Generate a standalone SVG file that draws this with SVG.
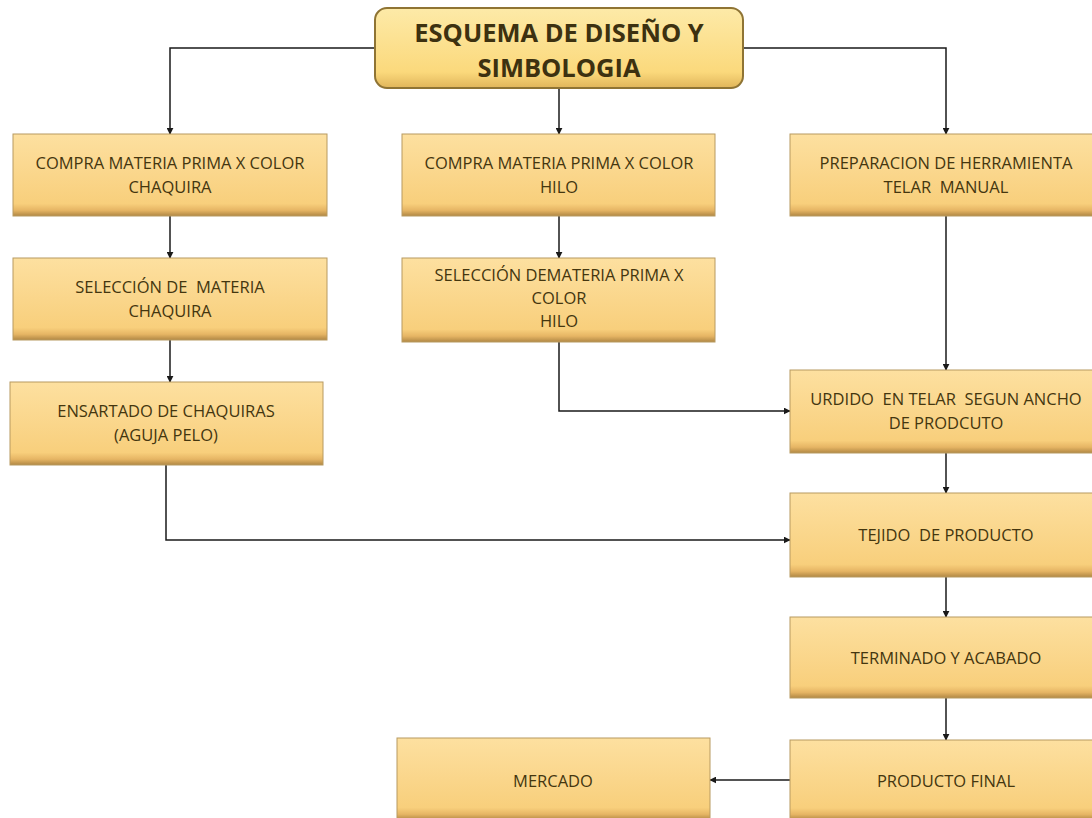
<svg xmlns="http://www.w3.org/2000/svg" width="1092" height="818" viewBox="0 0 1092 818">
<defs>
<linearGradient id="g" x1="0" y1="0" x2="0" y2="1">
<stop offset="0" stop-color="#fde0a0"/>
<stop offset="0.85" stop-color="#f8cf7c"/>
<stop offset="0.93" stop-color="#e6b564"/>
<stop offset="1" stop-color="#b08744"/>
</linearGradient>
<linearGradient id="gt" x1="0" y1="0" x2="0" y2="1">
<stop offset="0" stop-color="#fdeaa8"/>
<stop offset="0.8" stop-color="#fbd97c"/>
<stop offset="1" stop-color="#e0b55a"/>
</linearGradient>
<marker id="a" viewBox="0 0 10 10" refX="9" refY="5" markerWidth="7" markerHeight="7" orient="auto" markerUnits="userSpaceOnUse">
<path d="M0,0 L10,5 L0,10 z" fill="#1a1a1a"/>
</marker>
<style>
.b{fill:url(#g);stroke:#b89a60;stroke-width:1}
.t{font-family:"Open Sans","Noto Sans",sans-serif;font-size:16.5px;fill:#44360f;text-anchor:middle;white-space:pre}
.tt{font-family:"Open Sans","Noto Sans",sans-serif;font-size:25.5px;font-weight:bold;fill:#3d3110;text-anchor:middle}
.c{fill:none;stroke:#1a1a1a;stroke-width:1.5;marker-end:url(#a)}
</style>
</defs>
<rect width="1092" height="818" fill="#ffffff"/>
<g id="connectors">
<path class="c" d="M375,48 H170 V134"/>
<path class="c" d="M559,88 V134"/>
<path class="c" d="M743,48 H946 V134"/>
<path class="c" d="M170,216 V258"/>
<path class="c" d="M170,340 V382"/>
<path class="c" d="M166,465 V540 H790"/>
<path class="c" d="M559,216 V258"/>
<path class="c" d="M559,342 V411 H790"/>
<path class="c" d="M946,216 V370"/>
<path class="c" d="M946,453 V493"/>
<path class="c" d="M946,577 V617"/>
<path class="c" d="M946,698 V740"/>
<path class="c" d="M790,780 H710"/>
</g>
<g id="title">
<rect x="375" y="8" width="368" height="80" rx="12" fill="url(#gt)" stroke="#8f7434" stroke-width="2"/>
<text class="tt" x="559" y="42">ESQUEMA DE DISEÑO Y</text>
<text class="tt" x="559" y="77">SIMBOLOGIA</text>
</g>
<g id="n1">
<rect class="b" x="13" y="134" width="314" height="82"/>
<text class="t" x="170" y="169">COMPRA MATERIA PRIMA X COLOR</text>
<text class="t" x="170" y="193">CHAQUIRA</text>
</g>
<g id="n2">
<rect class="b" x="13" y="258" width="314" height="82"/>
<text class="t" x="170" y="293">SELECCIÓN DE  MATERIA</text>
<text class="t" x="170" y="317">CHAQUIRA</text>
</g>
<g id="n3">
<rect class="b" x="10" y="382" width="313" height="83"/>
<text class="t" x="166" y="417">ENSARTADO DE CHAQUIRAS</text>
<text class="t" x="166" y="441">(AGUJA PELO)</text>
</g>
<g id="n4">
<rect class="b" x="402" y="134" width="313" height="82"/>
<text class="t" x="559" y="169">COMPRA MATERIA PRIMA X COLOR</text>
<text class="t" x="559" y="193">HILO</text>
</g>
<g id="n5">
<rect class="b" x="402" y="258" width="313" height="84"/>
<text class="t" x="559" y="281">SELECCIÓN DEMATERIA PRIMA X</text>
<text class="t" x="559" y="304">COLOR</text>
<text class="t" x="559" y="327">HILO</text>
</g>
<g id="n6">
<rect class="b" x="790" y="134" width="312" height="82"/>
<text class="t" x="946" y="169">PREPARACION DE HERRAMIENTA</text>
<text class="t" x="946" y="193">TELAR  MANUAL</text>
</g>
<g id="n7">
<rect class="b" x="790" y="370" width="312" height="83"/>
<text class="t" x="946" y="405">URDIDO  EN TELAR  SEGUN ANCHO</text>
<text class="t" x="946" y="429">DE PRODCUTO</text>
</g>
<g id="n8">
<rect class="b" x="790" y="493" width="312" height="84"/>
<text class="t" x="946" y="541">TEJIDO  DE PRODUCTO</text>
</g>
<g id="n9">
<rect class="b" x="790" y="617" width="312" height="81"/>
<text class="t" x="946" y="664">TERMINADO Y ACABADO</text>
</g>
<g id="n10">
<rect class="b" x="790" y="740" width="312" height="80"/>
<text class="t" x="946" y="787">PRODUCTO FINAL</text>
</g>
<g id="n11">
<rect class="b" x="397" y="738" width="313" height="82"/>
<text class="t" x="553" y="787">MERCADO</text>
</g>
</svg>
